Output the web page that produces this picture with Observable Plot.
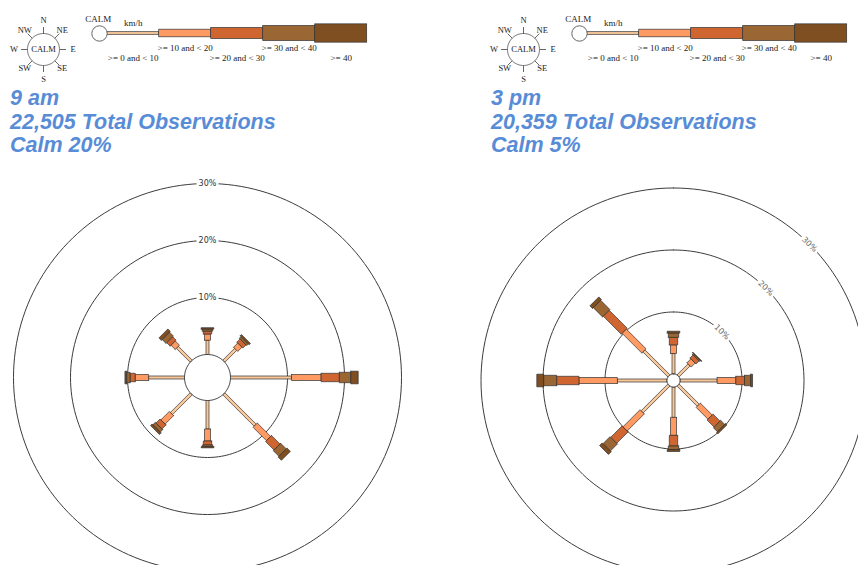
<!DOCTYPE html>
<html><head><meta charset="utf-8">
<script src="https://cdn.jsdelivr.net/npm/d3@7"></script>
<script src="https://cdn.jsdelivr.net/npm/@observablehq/plot@0.6"></script>
<style>
html,body{margin:0;padding:0;background:#fff;}
#page{position:relative;width:858px;height:565px;overflow:hidden;font-family:"Liberation Sans",Arial,sans-serif;}
.title{font-weight:bold;font-style:italic;font-size:21.5px;line-height:23.5px;color:#588cd7;white-space:nowrap;}
</style></head><body><div id="page"></div>
<script>
// ---------- data ----------
const directions = ["N","NE","E","SE","S","SW","W","NW"];
const directionAngles = [0,45,90,135,180,225,270,315];
const speedClasses = [">= 0 and < 10", ">= 10 and < 20", ">= 20 and < 30", ">= 30 and < 40", ">= 40"];
const speedUnit = "km/h";
const calmLabel = "CALM";
const ringTicks = [10, 20, 30];
const ringTickLabels = ["10%", "20%", "30%"];

// 9 am  (percent of observations, by direction N..NW)
const am9Title = ["9 am", "22,505 Total Observations", "Calm 20%"];
const am9Speed0to10  = [2.5, 2.95, 10.7, 7.8, 5.0, 4.9, 6.3, 3.45];
const am9Speed10to20 = [1.1, 1.05, 5.2, 3.3, 2.1, 2.1, 2.35, 1.05];
const am9Speed20to30 = [0.5, 0.8, 3.2, 2.1, 0.7, 1.0, 0.9, 0.85];
const am9Speed30to40 = [0.35, 0.4, 2.0, 1.4, 0.3, 0.6, 0.6, 0.95];
const am9Speed40plus = [0.25, 0.3, 1.3, 0.8, 0.2, 0.4, 0.3, 0.6];

// 3 pm
const pm3Title = ["3 pm", "20,359 Total Observations", "Calm 5%"];
const pm3Speed0to10  = [3.3, 2.5, 6.0, 4.6, 4.9, 6.1, 8.0, 5.7];
const pm3Speed10to20 = [1.4, 0.9, 3.0, 2.7, 2.9, 3.9, 6.2, 4.5];
const pm3Speed20to30 = [1.2, 0.7, 1.4, 1.6, 1.7, 2.6, 3.6, 4.1];
const pm3Speed30to40 = [0.7, 0.2, 1.0, 0.9, 0.6, 1.6, 2.1, 2.1];
const pm3Speed40plus = [0.3, 0.1, 0.3, 0.3, 0.3, 0.6, 1.1, 0.6];

// ---------- style ----------
const speedColors = ["#F8C89A", "#FF9A62", "#CF6631", "#9A6634", "#7F4E21"];
const roseHalfWidthPx = [1.5, 3.0, 4.2, 5.2, 6.3];
const legendBarHeightPx = [2.6, 7.6, 11, 15, 18.3];
const serif = "'Liberation Serif','Times New Roman',serif";

const page = document.getElementById("page");
function place(node, left, top) {
  node.style.position = "absolute";
  node.style.left = left + "px";
  node.style.top = top + "px";
  node.style.background = "transparent";
  page.appendChild(node);
}
function circlePts(R, id) {
  return d3.range(0, 361, 2).map(a => ({id, x: R * Math.sin(a * Math.PI / 180), y: R * Math.cos(a * Math.PI / 180)}));
}

// ---------- compass legend ----------
function compass(ox) {
  const ticks = directions.map((d, i) => {
    const t = directionAngles[i] * Math.PI / 180;
    return {d, x1: 16 * Math.sin(t), y1: 16 * Math.cos(t), x2: 22.5 * Math.sin(t), y2: 22.5 * Math.cos(t),
            lx: (i % 2 ? 26.5 : 29.5) * Math.sin(t), ly: (i % 2 ? 26.5 : 29.5) * Math.cos(t)};
  });
  const p = Plot.plot({
    width: 86, height: 90, margin: 0,
    style: {background: "transparent"},
    x: {domain: [-43, 43], axis: null},
    y: {domain: [-41, 49], axis: null},
    marks: [
      Plot.line(circlePts(16, "c"), {x: "x", y: "y", stroke: "#555", strokeWidth: 0.9}),
      Plot.link(ticks, {x1: "x1", y1: "y1", x2: "x2", y2: "y2", stroke: "#555", strokeWidth: 0.9}),
      Plot.text(ticks, {x: "lx", y: "ly", text: "d", fontFamily: serif, fontSize: 8.5, fill: "#222"}),
      Plot.text([calmLabel], {x: 0, y: 0, text: d => d, fontFamily: serif, fontSize: 8.5, fill: "#222"})
    ]
  });
  place(p, ox, 0);
}

// ---------- speed legend ----------
function speedLegend(ox) {
  const data = speedClasses.map((c, i) => ({c, i, h: legendBarHeightPx[i], fill: speedColors[i]}));
  const p = Plot.plot({
    width: 295, height: 70, margin: 0,
    style: {background: "transparent"},
    x: {domain: [0, speedClasses.length], range: [21.7, 281.7], axis: null},
    y: {domain: [-37, 33], range: [70, 0], axis: null},
    color: {type: "identity"},
    marks: [
      Plot.rect(data, {x1: d => d.i, x2: d => d.i + 1, y1: d => -d.h / 2, y2: d => d.h / 2, fill: "fill", stroke: "#333", strokeWidth: 0.7}),
      Plot.dot([0], {x: 0, y: 0, r: 7.7, dx: -7.7, fill: "white", stroke: "#666", strokeWidth: 1}),
      Plot.text([calmLabel], {x: 0, y: 14, dx: -9, text: d => d, fontFamily: serif, fontSize: 9, fill: "#222"}),
      Plot.text([speedUnit], {x: 0.5, y: 10.3, text: d => d, fontFamily: serif, fontSize: 9, fill: "#222"}),
      Plot.text(data, {x: d => d.i + 0.5, y: d => d.i % 2 ? -14.7 : -25, text: "c", fontFamily: serif, fontSize: 9, fill: "#222"})
    ]
  });
  place(p, ox + 85, 0);
}

// ---------- titles ----------
function titles(lines, left) {
  const div = document.createElement("div");
  div.className = "title";
  div.innerHTML = lines.map(l => `<div>${l}</div>`).join("");
  place(div, left, 87);
}

// ---------- rose ----------
function rose(o) {
  const {series, calmPx, k, left, top, width, height, cx, cy, labelAngle, labelColor} = o;
  const inner = calmPx / k;
  const polys = [];
  directions.forEach((dir, di) => {
    const th = directionAngles[di] * Math.PI / 180;
    const ux = Math.sin(th), uy = Math.cos(th), nx = Math.cos(th), ny = -Math.sin(th);
    let s = inner;
    series.forEach((vals, ci) => {
      const e = s + vals[di];
      const hw = roseHalfWidthPx[ci] / k;
      const id = dir + "-" + ci;
      [[s, -hw], [e, -hw], [e, hw], [s, hw], [s, -hw]].forEach(([r, w]) =>
        polys.push({id, x: r * ux + w * nx, y: r * uy + w * ny, fill: speedColors[ci]}));
      s = e;
    });
  });
  const rings = ringTicks.flatMap(t => circlePts(inner + t, "r" + t));
  const la = labelAngle * Math.PI / 180;
  const labels = ringTicks.map((t, i) => ({t: ringTickLabels[i], x: (inner + t) * Math.sin(la), y: (inner + t) * Math.cos(la)}));
  const p = Plot.plot({
    width, height, margin: 0,
    style: {background: "transparent"},
    x: {domain: [-cx / k, (width - cx) / k], axis: null},
    y: {domain: [-(height - cy) / k, cy / k], axis: null},
    color: {type: "identity"},
    marks: [
      Plot.line(rings, {x: "x", y: "y", z: "id", stroke: "#3c3c3c", strokeWidth: 1}),
      Plot.dot(labels, {x: "x", y: "y", r: 11, fill: "white", stroke: "none"}),
      Plot.text(labels, {x: "x", y: "y", text: "t", rotate: labelAngle, fontSize: 8, fill: labelColor, fontFamily: "'DejaVu Sans',sans-serif"}),
      Plot.line(polys, {x: "x", y: "y", z: "id", fill: "fill", stroke: "#2b2b2b", strokeWidth: 0.8, strokeOpacity: 0.85}),
      Plot.line(circlePts(inner, "calm"), {x: "x", y: "y", fill: "white", stroke: "#333", strokeWidth: 1})
    ]
  });
  place(p, left, top);
}

// left panel: 9 am
compass(0);
speedLegend(0);
titles(am9Title, 10);
rose({series: [am9Speed0to10, am9Speed10to20, am9Speed20to30, am9Speed30to40, am9Speed40plus],
      calmPx: 23, k: 5.7, left: 0, top: 170, width: 420, height: 395, cx: 207, cy: 207,
      labelAngle: 0, labelColor: "#333"});

// right panel: 3 pm
compass(480);
speedLegend(480);
titles(pm3Title, 491);
rose({series: [pm3Speed0to10, pm3Speed10to20, pm3Speed20to30, pm3Speed30to40, pm3Speed40plus],
      calmPx: 6.5, k: 6.2, left: 440, top: 170, width: 418, height: 395, cx: 233, cy: 210,
      labelAngle: 45, labelColor: "#666"});
</script></body></html>
